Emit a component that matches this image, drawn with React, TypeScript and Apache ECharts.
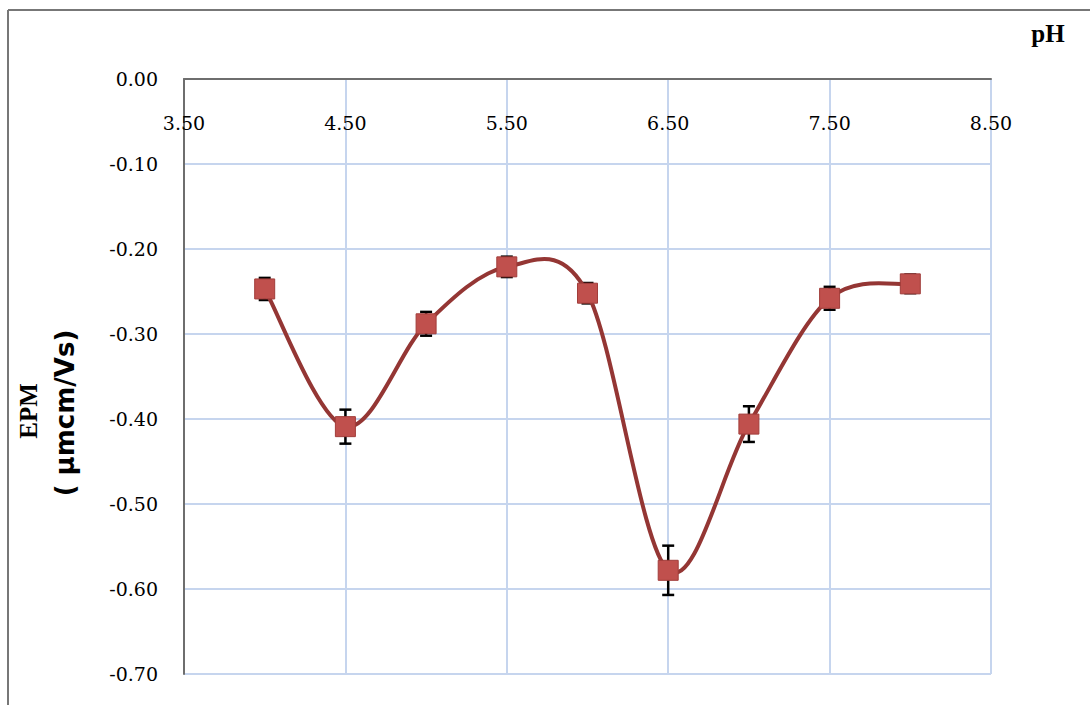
import React, { useEffect, useRef } from "react";
import * as echarts from "echarts";

const phValues = [4.0, 4.5, 5.0, 5.5, 6.0, 6.5, 7.0, 7.5, 8.0];
const epmValues = [-0.247, -0.409, -0.288, -0.221, -0.252, -0.578, -0.406, -0.258, -0.241];
const epmErrors = [0.013, 0.02, 0.014, 0.012, 0.012, 0.029, 0.021, 0.0135, 0.011];

const xAxisMin = 3.5;
const xAxisMax = 8.5;
const xAxisStep = 1;
const yAxisMin = -0.7;
const yAxisMax = 0;
const yAxisStep = 0.1;

const xTitle = "pH";
const yTitleLine1 = "EPM";
const yTitleLine2 = "( µmcm/Vs)";

const lineData = phValues.map((x, i) => [x, epmValues[i]]);
const errorData = phValues.map((x, i) => [x, epmValues[i], epmErrors[i]]);

// one item per curve segment: [x1, y1, x2, y2, x0, y0, x3, y3] (neighbours for smoothing)
const segmentData = phValues.slice(0, -1).map((x, i) => {
  const p = Math.max(i - 1, 0);
  const n = Math.min(i + 2, phValues.length - 1);
  return [x, epmValues[i], phValues[i + 1], epmValues[i + 1], phValues[p], epmValues[p], phValues[n], epmValues[n]];
});

export default function App() {
  const ref = useRef<HTMLDivElement>(null);

  useEffect(() => {
    document.body.style.margin = "0";
    if (!ref.current) return;
    const chart = echarts.init(ref.current, null, { renderer: "svg" });
    const gridColor = "#c6d5ee";
    const axisColor = "#6e6e6e";
    const labelFont = "'DejaVu Serif', 'Liberation Serif', serif";

    chart.setOption({
      animation: false,
      backgroundColor: "#ffffff",
      grid: { left: 184, top: 79, width: 807, height: 595, containLabel: false },
      xAxis: {
        type: "value",
        position: "top",
        min: xAxisMin,
        max: xAxisMax,
        interval: xAxisStep,
        axisLine: { show: true, onZero: false, lineStyle: { color: axisColor, width: 2 } },
        axisTick: { show: false },
        axisLabel: {
          inside: true,
          margin: 34,
          color: "#000",
          fontSize: 19,
          fontFamily: labelFont,
          formatter: (v: number) => v.toFixed(2),
        },
        splitLine: { show: true, lineStyle: { color: gridColor, width: 2 } },
      },
      yAxis: {
        type: "value",
        min: yAxisMin,
        max: yAxisMax,
        interval: yAxisStep,
        axisLine: { show: true, onZero: false, lineStyle: { color: axisColor, width: 2 } },
        axisTick: { show: false },
        axisLabel: {
          margin: 26,
          color: "#000",
          fontSize: 19,
          fontFamily: labelFont,
          formatter: (v: number) => v.toFixed(2),
        },
        splitLine: { show: true, lineStyle: { color: gridColor, width: 2 } },
      },
      graphic: [
        {
          type: "line",
          shape: { x1: 8, y1: 10, x2: 8, y2: 720 },
          style: { stroke: "#777777", lineWidth: 2 },
        },
        {
          type: "line",
          shape: { x1: 8, y1: 10, x2: 1100, y2: 10 },
          style: { stroke: "#777777", lineWidth: 2 },
        },
        {
          type: "text",
          x: 1048,
          y: 33,
          style: {
            text: xTitle,
            fontSize: 25,
            fontWeight: "bold",
            fontFamily: "'Liberation Serif', serif",
            fill: "#000",
            align: "center",
            verticalAlign: "middle",
          },
        },
        {
          type: "text",
          x: 28,
          y: 411,
          rotation: Math.PI / 2,
          style: {
            text: yTitleLine1,
            fontSize: 25,
            fontWeight: "bold",
            fontFamily: "'Liberation Serif', serif",
            fill: "#000",
            align: "center",
            verticalAlign: "middle",
          },
        },
        {
          type: "text",
          x: 65,
          y: 413,
          rotation: Math.PI / 2,
          style: {
            text: yTitleLine2,
            fontSize: 26,
            fontWeight: "bold",
            fontFamily: "'DejaVu Sans', sans-serif",
            fill: "#000",
            align: "center",
            verticalAlign: "middle",
          },
        },
      ],
      series: [
        {
          type: "custom",
          z: 1,
          data: errorData,
          renderItem: (params: any, api: any) => {
            const x = api.value(0);
            const y = api.value(1);
            const e = api.value(2);
            const top = api.coord([x, y + e]);
            const bot = api.coord([x, y - e]);
            const cap = 6;
            const style = { stroke: "#000", lineWidth: 2.5 };
            return {
              type: "group",
              children: [
                { type: "line", shape: { x1: top[0], y1: top[1], x2: bot[0], y2: bot[1] }, style },
                { type: "line", shape: { x1: top[0] - cap, y1: top[1], x2: top[0] + cap, y2: top[1] }, style },
                { type: "line", shape: { x1: bot[0] - cap, y1: bot[1], x2: bot[0] + cap, y2: bot[1] }, style },
              ],
            };
          },
        },
        {
          type: "custom",
          z: 2,
          data: segmentData,
          renderItem: (params: any, api: any) => {
            const p1 = api.coord([api.value(0), api.value(1)]);
            const p2 = api.coord([api.value(2), api.value(3)]);
            const p0 = api.coord([api.value(4), api.value(5)]);
            const p3 = api.coord([api.value(6), api.value(7)]);
            const c1 = [p1[0] + (p2[0] - p0[0]) / 6, p1[1] + (p2[1] - p0[1]) / 6];
            const c2 = [p2[0] - (p3[0] - p1[0]) / 6, p2[1] - (p3[1] - p1[1]) / 6];
            return {
              type: "bezierCurve",
              shape: {
                x1: p1[0], y1: p1[1],
                x2: p2[0], y2: p2[1],
                cpx1: c1[0], cpy1: c1[1],
                cpx2: c2[0], cpy2: c2[1],
              },
              style: { stroke: "#943634", lineWidth: 4, fill: null, lineCap: "round" },
            };
          },
        },
        {
          type: "line",
          z: 3,
          data: lineData,
          symbol: "rect",
          symbolSize: 20,
          lineStyle: { width: 0, opacity: 0 },
          itemStyle: { color: "#c0504d", borderColor: "#a13d3a", borderWidth: 1 },
        },
      ],
    });

    return () => chart.dispose();
  }, []);

  return <div ref={ref} style={{ width: 1090, height: 705 }} />;
}
